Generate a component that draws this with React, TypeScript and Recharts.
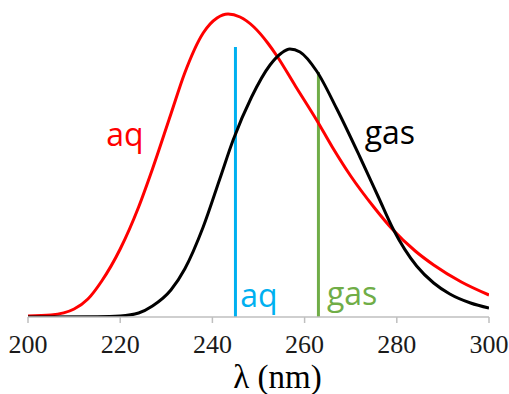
import {
  Line,
  LineChart,
  ReferenceDot,
  ReferenceLine,
  XAxis,
  YAxis
} from 'recharts'

type Pt = { x: number; y: number }

// absorption bands (arbitrary units, 0 = baseline)
const aqX = [200, 205, 210, 213, 216, 220, 224, 227, 231, 234, 238, 241, 243.4, 246, 249, 252, 254, 258, 262.6, 266, 270, 275, 279, 284, 288, 294, 300]
const aqY = [1, 2, 8, 18, 36, 68, 110, 148, 203, 244, 284, 299, 303, 300, 290, 274, 261, 231, 197, 170, 141, 110, 88, 66, 52, 35, 22]

const gasX = [200, 215, 220, 224, 227, 231, 234, 238, 241.6, 244.5, 248.5, 252.5, 255, 256.8, 259, 262.6, 267, 272, 276, 279.2, 284.3, 288, 291.5, 296, 300]
const gasY = [0, 0.3, 1, 4, 11, 27, 48, 90, 138, 177, 220, 252, 264, 268, 265, 246, 208, 160, 120, 88, 51, 34, 23, 14, 9]

const xTicks = [200, 220, 240, 260, 280, 300]

// computed band maxima (nm) and the height each marker line reaches
const aqMax = 245
const aqMaxTop = 270
const gasMax = 263
const gasMaxTop = 245

const zip = (xs: number[], ys: number[]): Pt[] => xs.map((x, i) => ({ x, y: ys[i] }))
const aqData = zip(aqX, aqY)
const gasData = zip(gasX, gasY)

const sans = '"Open Sans", sans-serif'
const serif = '"Liberation Serif", serif'

export default function App() {
  return (
    <div style={{ position: 'absolute', left: 0, top: 0, background: '#fff' }}>
      <LineChart width={509} height={394} margin={{ top: 7, right: 20, bottom: 0, left: 28 }}>
        <XAxis
          type="number"
          dataKey="x"
          domain={[200, 300]}
          ticks={xTicks}
          allowDataOverflow
          height={77}
          tickSize={6}
          tickMargin={12}
          tick={{ fontSize: 26, fill: '#1a1a1a', fontFamily: serif }}
          axisLine={{ stroke: '#bfbfbf', strokeWidth: 1.5 }}
          tickLine={{ stroke: '#bfbfbf', strokeWidth: 1.5 }}
          label={{ value: 'λ (nm)', position: 'insideBottom', offset: 6, dx: 19, fontSize: 33, fill: '#000', fontFamily: serif }}
        />
        <YAxis type="number" domain={[0, 310]} hide allowDataOverflow />
        <ReferenceLine
          segment={[{ x: aqMax, y: 0 }, { x: aqMax, y: aqMaxTop }]}
          stroke="#00b0f0"
          strokeWidth={3}
        />
        <ReferenceLine
          segment={[{ x: gasMax, y: 0 }, { x: gasMax, y: gasMaxTop }]}
          stroke="#70ad47"
          strokeWidth={3}
        />
        <Line
          data={aqData}
          dataKey="y"
          type="monotone"
          stroke="#ff0000"
          strokeWidth={3}
          dot={false}
          isAnimationActive={false}
        />
        <Line
          data={gasData}
          dataKey="y"
          type="monotone"
          stroke="#000"
          strokeWidth={3}
          dot={false}
          isAnimationActive={false}
        />
        <ReferenceDot x={221} y={182} r={0} label={{ value: 'aq', position: 'center', fill: '#ff0000', fontSize: 32, fontFamily: sans }} />
        <ReferenceDot x={278.5} y={184} r={0} label={{ value: 'gas', position: 'center', fill: '#000', fontSize: 32, fontFamily: sans }} />
        <ReferenceDot x={250.1} y={21} r={0} label={{ value: 'aq', position: 'center', fill: '#00b0f0', fontSize: 32, fontFamily: sans }} />
        <ReferenceDot x={270.3} y={23} r={0} label={{ value: 'gas', position: 'center', fill: '#70ad47', fontSize: 32, fontFamily: sans }} />
      </LineChart>
    </div>
  )
}
